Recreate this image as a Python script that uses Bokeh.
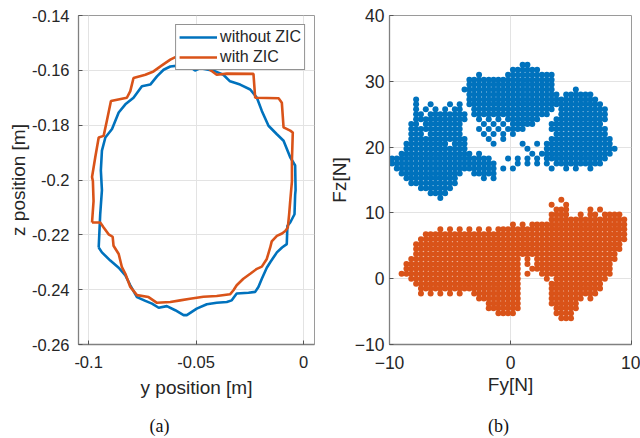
from bokeh.plotting import figure
from bokeh.layouts import row, column
from bokeh.models import Range1d, FixedTicker
from bokeh.core.properties import value
from bokeh.embed import file_html
from bokeh.resources import INLINE

BLUE = "#0072BD"
ORANGE = "#D95319"
TXT = "#262626"
SANS = "Liberation Sans"

# ---------------- (a) trajectories ----------------
Y_WITHOUT = [-0.0953, -0.0946, -0.0938, -0.0943, -0.0938, -0.0922, -0.0891, -0.0860, -0.0829,
             -0.0791, -0.0752, -0.0713, -0.0682, -0.0651, -0.0620, -0.0574, -0.0530, -0.0505,
             -0.0480, -0.0419, -0.0373, -0.0342, -0.0295, -0.0248, -0.0217, -0.0194, -0.0163,
             -0.0124, -0.0093, -0.0062, -0.0039, -0.0037, -0.0039, -0.0042, -0.0062, -0.0075,
             -0.0078, -0.0100, -0.0124, -0.0155, -0.0171, -0.0194, -0.0210, -0.0225, -0.0256,
             -0.0311, -0.0334, -0.0357, -0.0404, -0.0450, -0.0497, -0.0543, -0.0558, -0.0597,
             -0.0636, -0.0674, -0.0705, -0.0736, -0.0775, -0.0806, -0.0829, -0.0860, -0.0899,
             -0.0938, -0.0953]
Z_WITHOUT = [-0.2246, -0.2125, -0.2037, -0.1965, -0.1893, -0.1845, -0.1814, -0.1754, -0.1724,
             -0.1700, -0.1658, -0.1652, -0.1622, -0.1598, -0.1586, -0.1582, -0.1585, -0.1601,
             -0.1592, -0.1601, -0.1616, -0.1640, -0.1652, -0.1670, -0.1700, -0.1748, -0.1802,
             -0.1833, -0.1857, -0.1917, -0.1947, -0.2037, -0.2053, -0.2125, -0.2155, -0.2167,
             -0.2234, -0.2246, -0.2264, -0.2300, -0.2320, -0.2360, -0.2390, -0.2408, -0.2411,
             -0.2414, -0.2439, -0.2445, -0.2448, -0.2453, -0.2469, -0.2493, -0.2493, -0.2475,
             -0.2460, -0.2466, -0.2451, -0.2441, -0.2427, -0.2384, -0.2348, -0.2320, -0.2294,
             -0.2264, -0.2246]

Y_WITH = [-0.0984, -0.0977, -0.0980, -0.0984, -0.0969, -0.0953, -0.0930, -0.0915, -0.0896,
          -0.0822, -0.0806, -0.0791, -0.0736, -0.0698, -0.0659, -0.0620, -0.0589, -0.0520,
          -0.0435, -0.0404, -0.0357, -0.0233, -0.0225, -0.0116, -0.0101, -0.0093, -0.0062,
          -0.0050, -0.0054, -0.0054, -0.0062, -0.0067, -0.0073, -0.0085, -0.0100, -0.0124,
          -0.0148, -0.0155, -0.0171, -0.0194, -0.0217, -0.0248, -0.0280, -0.0311, -0.0326,
          -0.0342, -0.0404, -0.0466, -0.0528, -0.0574, -0.0620, -0.0682, -0.0721, -0.0775,
          -0.0806, -0.0829, -0.0845, -0.0860, -0.0884, -0.0888, -0.0907, -0.0930, -0.0946,
          -0.0984]
Z_WITH = [-0.2155, -0.2077, -0.2005, -0.1989, -0.1917, -0.1845, -0.1839, -0.1784, -0.1712,
          -0.1700, -0.1676, -0.1628, -0.1616, -0.1604, -0.1582, -0.1561, -0.1549, -0.1545,
          -0.1598, -0.1616, -0.1612, -0.1613, -0.1700, -0.1702, -0.1718, -0.1808, -0.1820,
          -0.1827, -0.1929, -0.2005, -0.2077, -0.2125, -0.2173, -0.2186, -0.2195, -0.2204,
          -0.2224, -0.2246, -0.2288, -0.2316, -0.2324, -0.2342, -0.2360, -0.2384, -0.2402,
          -0.2417, -0.2423, -0.2426, -0.2433, -0.2439, -0.2445, -0.2448, -0.2427, -0.2420,
          -0.2390, -0.2342, -0.2318, -0.2270, -0.2240, -0.2207, -0.2198, -0.2173, -0.2155,
          -0.2155]

A_X_TICKS = [-0.1, -0.05, 0.0]
A_X_LABELS = ["-0.1", "-0.05", "0"]
A_Y_TICKS = [-0.26, -0.24, -0.22, -0.2, -0.18, -0.16, -0.14]
A_Y_LABELS = ["-0.26", "-0.24", "-0.22", "-0.2", "-0.18", "-0.16", "-0.14"]

# ---------------- (b) force clouds, read as occupancy maps ----------------
FY_CELLS = [-9.8, -9.4, -9.0, -8.6, -8.2, -7.8, -7.4, -7.0, -6.6, -6.2,
            -5.8, -5.4, -5.0, -4.6, -4.2, -3.8, -3.4, -3.0, -2.6, -2.2,
            -1.8, -1.4, -1.0, -0.6, -0.2, 0.2, 0.6, 1.0, 1.4, 1.8,
            2.2, 2.6, 3.0, 3.4, 3.8, 4.2, 4.6, 5.0, 5.4, 5.8,
            6.2, 6.6, 7.0, 7.4, 7.8, 8.2, 8.6, 9.0, 9.4, 9.8]

E = ".........."
F = "##########"

BLUE_FZ_ROWS = [32.5, 31.75, 31.0, 30.25, 29.5, 28.75, 28.0, 27.25, 26.5, 25.75,
                25.0, 24.25, 23.5, 22.75, 22.0, 21.25, 20.5, 19.75, 19.0, 18.25,
                17.5, 16.75, 16.0, 15.25, 14.5, 13.75, 13.0, 12.25]
BLUE_MAP = [
    E + E + ".......##." + E + E,
    E + E + ".....#####" + "#........." + E,
    E + "........#." + "....######" + "####......" + E,
    E + "......####" + F + "####......" + E,
    E + "......####" + F + "####......" + E,
    E + ".....#####" + F + "####....#." + E,
    E + "......####" + F + "#####.####" + "##........",
    ".....#...." + "......####" + F + F + "###.......",
    ".....#..#." + "..#.#.####" + F + F + "####......",
    ".....#.#.#" + ".#.##..###" + F + "####.#####" + "#####.....",
    ".....##.##" + "######.###" + F + "###..#####" + "#####.....",
    ".....#####" + "######..#." + "#.#.######" + "#...######" + "#####.....",
    "....##.###" + "#####....#" + ".#.#.#####" + "...#######" + "####......",
    "....######" + "#####...#." + "#.#.####.." + "...#######" + "#####.....",
    "....###.##" + "#####....#" + ".#.#.#...." + "....######" + "#####.....",
    "....######" + "######...." + "#..#......" + "...#######" + "######....",
    "...#######" + "##.###...." + ".#.....#.." + "#.########" + "######....",
    "...#######" + "######...." + "........#." + "..########" + "#######...",
    "..########" + "#######.#." + ".........#" + ".#########" + "######....",
    F + F + "#...#.#.#." + "#.########" + "#####.....",
    F + F + "##....#.#." + "#.#.######" + "####......",
    ".#########" + F + "##.#.#...." + "...#..#.#." + ".#........",
    "..########" + "#####..###" + "##........" + E + E,
    "...#######" + "####.....#" + ".#........" + E + E,
    "....######" + "####......" + E + E + E,
    "......####" + "###......." + E + E + E,
    "........##" + "##........" + E + E + E,
    E + "#........." + E + E + E,
]

ORANGE_FZ_ROWS = [12.0, 11.25, 10.5, 9.75, 9.0, 8.25, 7.5, 6.75, 6.0, 5.25,
                  4.5, 3.75, 3.0, 2.25, 1.5, 0.75, 0.0, -0.75, -1.5, -2.25,
                  -3.0, -3.75, -4.5, -5.25, -6.0]
ORANGE_MAP = [
    E + E + E + ".....#...." + E,
    E + E + E + "...#..#..." + E,
    E + E + E + "....###..." + ".#.#......",
    E + E + E + "...####..#" + ".##.####..",
    E + E + E + "...#######" + "#########.",
    E + E + ".....#.#.#" + F + "#########.",
    E + "#.#.#.#.#." + "#.########" + F + "#########.",
    ".......###" + F + F + F + "#########.",
    "......####" + F + F + F + "#########.",
    ".....#####" + F + F + F + "########..",
    ".....#####" + F + F + F + "########..",
    ".....#####" + F + F + F + "#######...",
    "....######" + F + "#######.#." + F + "#######...",
    "...#######" + F + "#######.#." + F + "######....",
    "...#######" + F + "#######..#" + F + "######....",
    "..########" + F + "#######.#." + ".#########" + "######....",
    "....######" + F + "#######..." + "..#.######" + "#####.....",
    ".....#####" + F + "#######..." + "...#######" + "####......",
    "......####" + F + "#######..." + "...#######" + "####......",
    "......#.#." + "#.#.#..###" + "#######..." + "...#######" + "###.......",
    E + "........##" + "#######..." + "...#######" + ".#........",
    E + E + "#######..." + "...######." + E,
    E + E + "#######..." + "....#####." + E,
    E + E + "..####...." + "....####.." + E,
    E + E + E + ".....###.." + E,
]

B_X_TICKS = [-10, 0, 10]
B_Y_TICKS = [-10, 0, 10, 20, 30, 40]

# sub-figure captions (text, horizontal pixel centre in the page strip)
CAPTIONS = ["(a)", "(b)"]
CAPTION_X = [159, 498]


def cells(rows_fz, cmap):
    xs, ys = [], []
    for fz, line in zip(rows_fz, cmap):
        for c, ch in enumerate(line):
            if ch == "#":
                xs.append(FY_CELLS[c])
                ys.append(fz)
    return xs, ys


def style(p, xticks, yticks, tick_size, xlabels=None, ylabels=None):
    p.background_fill_color = "white"
    p.border_fill_color = "white"
    p.outline_line_color = "#9a9a9a"
    p.outline_line_width = 1
    p.xaxis.ticker = FixedTicker(ticks=xticks)
    p.yaxis.ticker = FixedTicker(ticks=yticks)
    if xlabels:
        p.xaxis.major_label_overrides = dict(zip(xticks, xlabels))
    if ylabels:
        p.yaxis.major_label_overrides = dict(zip(yticks, ylabels))
    for ax in p.axis:
        ax.axis_line_color = "#808080"
        ax.axis_line_width = 1.3
        ax.major_tick_in = 4
        ax.major_tick_out = 0
        ax.major_tick_line_color = "#555555"
        ax.minor_tick_line_color = None
        ax.major_label_text_font = SANS
        ax.major_label_text_font_size = tick_size
        ax.major_label_text_color = TXT
        ax.axis_label_text_font = SANS
        ax.axis_label_text_font_size = "19px"
        ax.axis_label_text_font_style = "normal"
        ax.axis_label_text_color = TXT
    p.xgrid.ticker = FixedTicker(ticks=xticks)
    p.ygrid.ticker = FixedTicker(ticks=yticks)
    p.grid.grid_line_color = "#e3e3e3"
    p.grid.grid_line_width = 1


# ---------- left panel ----------
p1 = figure(width=325, height=410, output_backend="svg", toolbar_location=None,
            x_range=Range1d(-0.1047, 0.0051), y_range=Range1d(-0.26, -0.14),
            min_border_left=78, min_border_right=11, min_border_top=15, min_border_bottom=66,
            x_axis_label="y position [m]", y_axis_label="z position [m]")
style(p1, A_X_TICKS, A_Y_TICKS, "16.5px", A_X_LABELS, A_Y_LABELS)
p1.xaxis[0].major_label_standoff = 11
p1.xaxis[0].axis_label_standoff = 6
p1.yaxis[0].major_label_standoff = 9
p1.yaxis[0].axis_label_standoff = 0

p1.line(Y_WITHOUT, Z_WITHOUT, line_color=BLUE, line_width=2.6, legend_label="without ZIC")
p1.line(Y_WITH, Z_WITH, line_color=ORANGE, line_width=2.6, legend_label="with ZIC")
lg = p1.legend[0]
lg.location = "top_right"
lg.margin = 9
lg.padding = 3
lg.spacing = 2
lg.glyph_width = 38
lg.glyph_height = 18
lg.label_height = 18
lg.label_standoff = 3
lg.label_text_font = SANS
lg.label_text_font_size = "16px"
lg.label_text_color = TXT
lg.border_line_color = "#262626"
lg.border_line_width = 1
lg.background_fill_alpha = 1.0

# ---------- right panel ----------
p2 = figure(width=315, height=410, output_backend="svg", toolbar_location=None,
            x_range=Range1d(-10, 10), y_range=Range1d(-10, 40),
            min_border_left=63, min_border_right=9, min_border_top=13, min_border_bottom=63,
            x_axis_label="Fy[N]", y_axis_label="Fz[N]")
style(p2, B_X_TICKS, B_Y_TICKS, "17.5px")
p2.xaxis[0].major_label_standoff = 11
p2.xaxis[0].axis_label_standoff = 2
p2.yaxis[0].major_label_standoff = 5
p2.yaxis[0].axis_label_standoff = 2

bx, by = cells(BLUE_FZ_ROWS, BLUE_MAP)
ox, oy = cells(ORANGE_FZ_ROWS, ORANGE_MAP)
p2.scatter(bx, by, size=6, marker="circle", fill_color=BLUE, line_color=None)
p2.scatter(ox, oy, size=6, marker="circle", fill_color=ORANGE, line_color=None)

# ---------- caption strip ----------
cap = figure(width=640, height=28, output_backend="svg", toolbar_location=None,
             x_range=Range1d(0, 640), y_range=Range1d(0, 28),
             min_border_left=0, min_border_right=0, min_border_top=0, min_border_bottom=0)
cap.axis.visible = False
cap.grid.visible = False
cap.outline_line_color = None
cap.text(x=CAPTION_X, y=[13, 13], text=CAPTIONS, text_font=value("Liberation Serif"),
         text_font_size="18px", text_align="center", text_baseline="middle",
         text_color="#111111")

layout = column(row(p1, p2), cap)
open("out.html", "w").write(file_html(layout, INLINE))
